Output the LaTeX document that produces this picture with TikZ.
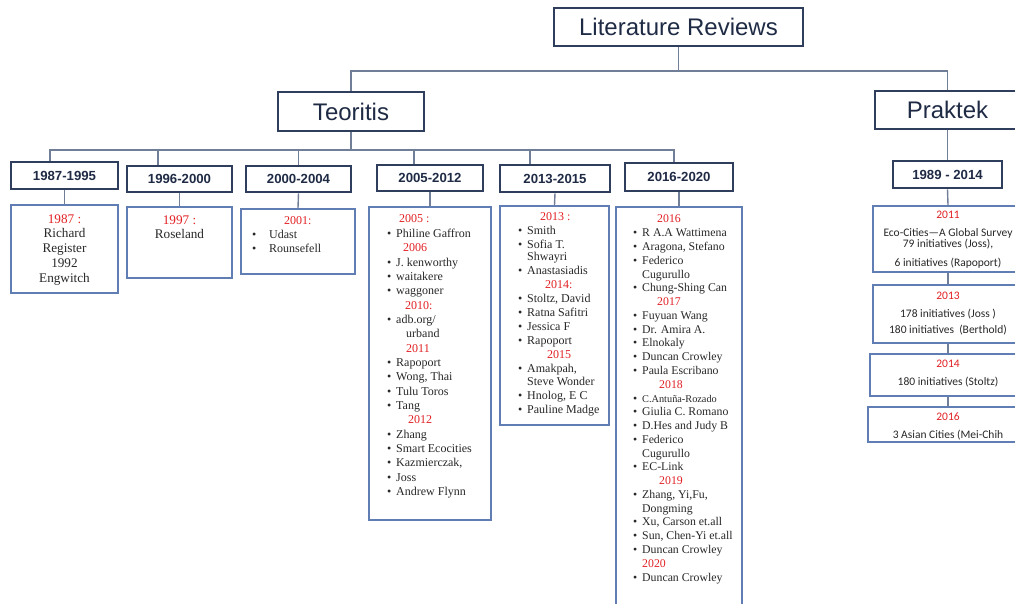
\documentclass[tikz,border=0pt]{standalone}
\usepackage{fontspec}
\setmainfont{Liberation Serif}
\setsansfont{Liberation Sans}
\newfontfamily\calfont{Carlito}
\definecolor{navy}{RGB}{47,62,92}
\definecolor{headtext}{RGB}{31,43,69}
\definecolor{linkgray}{RGB}{112,126,152}
\definecolor{listblue}{RGB}{96,126,180}
\definecolor{yrred}{RGB}{226,32,36}
\definecolor{bodytext}{RGB}{40,40,40}
\newcommand{\bl}[1][9pt]{\makebox[#1][l]{\textbullet}}
\newcommand{\yr}[2][0pt]{\hspace*{#1}\textcolor{yrred}{#2}}
\begin{document}
\begin{tikzpicture}[x=1pt,y=-1pt,
  topbox/.style={draw=navy,line width=2.2pt,fill=white,inner sep=0pt,text=headtext,
    font=\sffamily\fontsize{24}{28}\selectfont},
  hdr/.style={draw=navy,line width=2.6pt,fill=white,inner sep=0pt,text=headtext,
    font=\sffamily\bfseries\fontsize{13.2}{15}\selectfont},
  listbox/.style={draw=listblue,line width=2.4pt,fill=white,inner sep=0pt},
  link/.style={draw=linkgray,line width=1.4pt},
  txtnode/.style={inner sep=0pt,text=bodytext}]
    \useasboundingbox (0,0) rectangle (1015,604);
    \clip (0,0) rectangle (1015,604);

    % top level
    \node[topbox,minimum width=249pt,minimum height=38pt] (lit) at (678.5,27) {Literature Reviews};
    \node[topbox,minimum width=146pt,minimum height=39pt] (teo) at (351,111.5) {Teoritis};
    \node[topbox,minimum width=145pt,minimum height=38pt] (prak) at (947.5,110) {Praktek};

    % periods
    \node[hdr,minimum width=107pt,minimum height=27pt] (p1) at (64.5,175.5) {1987-1995};
    \node[hdr,minimum width=105pt,minimum height=26pt] (p2) at (179.5,179) {1996-2000};
    \node[hdr,minimum width=105pt,minimum height=26pt] (p3) at (298.5,179) {2000-2004};
    \node[hdr,minimum width=106pt,minimum height=26pt] (p4) at (430,178) {2005-2012};
    \node[hdr,minimum width=110pt,minimum height=27pt] (p5) at (555,178.5) {2013-2015};
    \node[hdr,minimum width=108pt,minimum height=28pt] (p6) at (679,177) {2016-2020};
    \node[hdr,minimum width=109pt,minimum height=27pt] (pp) at (947.5,174.5) {1989 - 2014};

    % list boxes
    \node[listbox,minimum width=107pt,minimum height=88pt] (b1) at (64.5,249) {};
    \node[listbox,minimum width=105pt,minimum height=71pt] (b2) at (179.5,242.5) {};
    \node[listbox,minimum width=114pt,minimum height=65pt] (b3) at (298,241.5) {};
    \node[listbox,minimum width=122pt,minimum height=313pt] (b4) at (430,363.5) {};
    \node[listbox,minimum width=109pt,minimum height=219pt] (b5) at (554.5,315.5) {};
    \node[listbox,minimum width=126pt,minimum height=420pt] (b6) at (679,417) {};
    \node[listbox,minimum width=150pt,minimum height=66pt] (q1) at (948,239) {};
    \node[listbox,minimum width=150pt,minimum height=58pt] (q2) at (948,314) {};
    \node[listbox,minimum width=156pt,minimum height=42pt] (q3) at (948,375) {};
    \node[listbox,minimum width=160pt,minimum height=35pt] (q4) at (948,424.5) {};

    % box texts
    \node[txtnode,anchor=base,font=\fontsize{13.2}{15}\selectfont] (t1) at (64.5,223.5)
      {\begin{tabular}[t]{@{}c@{}}\yr{1987 :}\\[-1pt] Richard\\ Register\\ 1992\\ Engwitch\end{tabular}};
    \node[txtnode,anchor=base,font=\fontsize{13.2}{14}\selectfont] (t2) at (179.5,224.5)
      {\begin{tabular}[t]{@{}c@{}}\yr{1997 :}\\ Roseland\end{tabular}};
    \node[txtnode,anchor=base west,font=\fontsize{12}{13.6}\selectfont] (t3) at (252,225)
      {\begin{tabular}[t]{@{}l@{}}\yr[32pt]{2001:}\\ \bl[17pt]Udast\\ \bl[17pt]Rounsefell\end{tabular}};
    \node[txtnode,anchor=base west,font=\fontsize{12}{14.35}\selectfont] (t4) at (387,223)
      {\begin{tabular}[t]{@{}l@{}}
        \yr[12pt]{2005 :}\\
        \bl Philine Gaffron\\
        \yr[16pt]{2006}\\
        \bl J. kenworthy\\
        \bl waitakere\\
        \bl waggoner\\
        \yr[18pt]{2010:}\\
        \bl adb.org/\\
        \hspace*{19pt}urband\\
        \yr[19pt]{2011}\\
        \bl Rapoport\\
        \bl Wong, Thai\\
        \bl Tulu Toros\\
        \bl Tang\\
        \yr[21pt]{2012}\\
        \bl Zhang\\
        \bl Smart Ecocities\\
        \bl Kazmierczak,\\
        \bl Joss\\
        \bl Andrew Flynn
      \end{tabular}};
    \node[txtnode,anchor=base west,font=\fontsize{12}{14}\selectfont] (t5) at (518,221)
      {\begin{tabular}[t]{@{}l@{}}
        \yr[22pt]{2013 :}\\
        \bl Smith\\
        \bl Sofia T.\\[-2pt]
        \hspace*{9pt}Shwayri\\
        \bl Anastasiadis\\
        \yr[27pt]{2014:}\\
        \bl Stoltz, David\\
        \bl Ratna Safitri\\
        \bl Jessica F\\
        \bl Rapoport\\
        \yr[29pt]{2015}\\
        \bl Amakpah,\\[-1pt]
        \hspace*{9pt}Steve Wonder\\
        \bl Hnolog, E C\\
        \bl Pauline Madge
      \end{tabular}};
    \node[txtnode,anchor=base west,font=\fontsize{11.8}{13.77}\selectfont] (t6) at (633,223)
      {\begin{tabular}[t]{@{}l@{}}
        \yr[24pt]{2016}\\
        \bl R A.A Wattimena\\
        \bl Aragona, Stefano\\
        \bl Federico\\
        \hspace*{9pt}Cugurullo\\
        \bl Chung-Shing Can\\
        \yr[24pt]{2017}\\
        \bl Fuyuan Wang\\
        \bl Dr. Amira A.\\
        \bl Elnokaly\\
        \bl Duncan Crowley\\
        \bl Paula Escribano\\
        \yr[26pt]{2018}\\
        \bl{\fontsize{10.3}{13.77}\selectfont C.Antuña-Rozado}\\
        \bl Giulia C. Romano\\
        \bl D.Hes and Judy B\\
        \bl Federico\\
        \hspace*{9pt}Cugurullo\\
        \bl EC-Link\\
        \yr[26pt]{2019}\\
        \bl Zhang, Yi,Fu,\\
        \hspace*{9pt}Dongming\\
        \bl Xu, Carson et.all\\
        \bl Sun, Chen-Yi et.all\\
        \bl Duncan Crowley\\
        \yr[9pt]{2020}\\
        \bl Duncan Crowley
      \end{tabular}};

    % praktek texts
    \node[txtnode,anchor=base,font=\calfont\fontsize{11.5}{18}\selectfont] (u1) at (948,218.7)
      {\begin{tabular}[t]{@{}c@{}}\yr{2011}\\ Eco-Cities—A Global Survey\\[-7pt] 79 initiatives (Joss),\\[1pt] 6 initiatives (Rapoport)\end{tabular}};
    \node[txtnode,anchor=base,font=\calfont\fontsize{11.5}{18}\selectfont] (u2) at (948,299.7)
      {\begin{tabular}[t]{@{}c@{}}\yr{2013}\\ 178 initiatives (Joss )\\[-2pt] 180 initiatives\ \ (Berthold)\end{tabular}};
    \node[txtnode,anchor=base,font=\calfont\fontsize{11.5}{18}\selectfont] (u3) at (948,367.7)
      {\begin{tabular}[t]{@{}c@{}}\yr{2014}\\ 180 initiatives (Stoltz)\end{tabular}};
    \node[txtnode,anchor=base,font=\calfont\fontsize{11.5}{18}\selectfont] (u4) at (948,420.7)
      {\begin{tabular}[t]{@{}c@{}}\yr{2016}\\ 3 Asian Cities (Mei-Chih\end{tabular}};

    % connectors
    \coordinate (j0) at (678.5,71);
    \coordinate (j1) at (351,150);
    \draw[link] (lit.south) -- (j0);
    \draw[link] (teo.north) |- (j0) -| (prak.north);
    \draw[link] (teo.south) -- (j1);
    \draw[link] ([xshift=-14.5pt]p1.north) |- (j1) -| ([xshift=-5pt]p6.north);
    \foreach \n/\s in {p2/-21.5,p3/0,p4/-16,p5/-25}
        \draw[link] ([xshift=\s pt]\n.north) -- ([xshift=\s pt]\n.north |- j1);
    \foreach \n in {1,...,6}
        \draw[link] (p\n.south) -- (b\n.north);
    \draw[link] (prak.south) -- (pp.north);
    \draw[link] (pp.south) -- (q1.north);
    \draw[link] (q1.south) -- (q2.north);
    \draw[link] (q2.south) -- (q3.north);
    \draw[link] (q3.south) -- (q4.north);
\end{tikzpicture}
\end{document}
